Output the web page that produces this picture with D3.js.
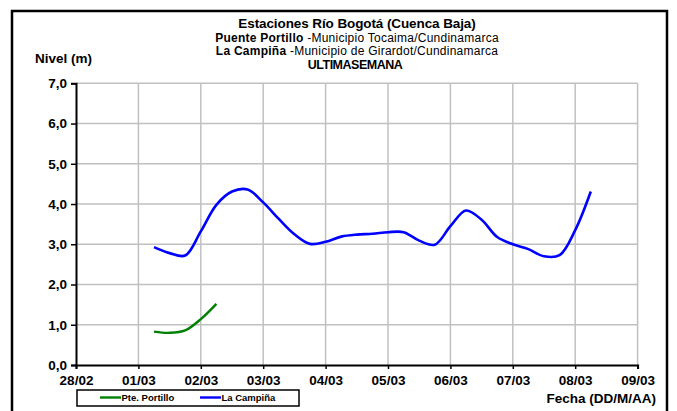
<!DOCTYPE html>
<html><head><meta charset="utf-8">
<script src="https://cdn.jsdelivr.net/npm/d3@7"></script>
<style>body{margin:0;background:#fff}svg{display:block}text{font-family:"Liberation Sans",Arial,sans-serif}</style>
</head><body><div id="c"></div>
<script>
const titleLines = ["Estaciones Río Bogotá (Cuenca Baja)"];
const dayLabels = ["28/02","01/03","02/03","03/03","04/03","05/03","06/03","07/03","08/03","09/03"];
const yTicks = [0,1,2,3,4,5,6,7];
const seriesNames = ["Pte. Portillo","La Campiña"];
// time in days after 28/02 00:00
const timeCampina = [1.25,1.5,1.75,2,2.25,2.5,2.75,3,3.25,3.5,3.75,4,4.25,4.5,4.75,5,5.25,5.5,5.75,6,6.25,6.5,6.75,7,7.25,7.5,7.75,8,8.25];
const nivelCampina = [2.93,2.78,2.72,3.32,3.98,4.31,4.36,4.04,3.63,3.25,3.01,3.06,3.19,3.24,3.26,3.30,3.30,3.09,2.99,3.45,3.84,3.61,3.18,3.00,2.88,2.70,2.73,3.35,4.31];
const timePortillo = [1.25,1.5,1.75,2,2.25];
const nivelPortillo = [0.83,0.80,0.86,1.14,1.52];

const W=677,H=411;
const svg=d3.select("#c").append("svg").attr("width",W).attr("height",H);
svg.append("rect").attr("x",12).attr("y",11).attr("width",655).attr("height",420).attr("fill","none").attr("stroke","#000").attr("stroke-width",2.5);

const x=d3.scaleLinear().domain([0,9]).range([76,637.6]);
const y=d3.scaleLinear().domain([0,7]).range([365,83.3]);

// grid
svg.append("g").selectAll("line").data(yTicks.slice(1)).join("line")
 .attr("x1",x(0)).attr("x2",x(9)).attr("y1",d=>y(d)).attr("y2",d=>y(d)).attr("stroke","#c0c0c0").attr("stroke-width",1.5);
svg.append("g").selectAll("line").data(d3.range(1,10)).join("line")
 .attr("x1",d=>x(d)).attr("x2",d=>x(d)).attr("y1",y(0)).attr("y2",y(7)).attr("stroke","#c0c0c0").attr("stroke-width",1.5);

// axes
const yAxis=d3.axisLeft(y).tickValues(yTicks).tickSize(5).tickFormat(d=>d3.format(".1f")(d).replace(".",","));
const gy=svg.append("g").attr("transform",`translate(${x(0)},0)`).call(yAxis);
gy.select(".domain").attr("stroke-width",2);
gy.selectAll(".tick line").attr("stroke-width",1.5);
gy.selectAll("text").attr("font-size",13.5).attr("font-weight","bold").attr("x",-9).attr("fill","#000");
const xAxis=d3.axisBottom(x).tickValues(d3.range(0,10)).tickSize(4).tickFormat(i=>dayLabels[i]);
const gx=svg.append("g").attr("transform",`translate(0,${y(0)})`).call(xAxis);
gx.select(".domain").attr("stroke-width",2);
gx.selectAll(".tick line").attr("stroke-width",1.5);
gx.selectAll("text").attr("font-size",13.5).attr("font-weight","bold").attr("y",10.4).attr("fill","#000");

// lines
const line=d3.line().curve(d3.curveCatmullRom.alpha(0.5));
svg.append("path").attr("d",line(timePortillo.map((t,i)=>[x(t),y(nivelPortillo[i])]))).attr("fill","none").attr("stroke","#008000").attr("stroke-width",2.4);
svg.append("path").attr("d",line(timeCampina.map((t,i)=>[x(t),y(nivelCampina[i])]))).attr("fill","none").attr("stroke","#0000ff").attr("stroke-width",2.6);

// titles
svg.append("text").attr("text-anchor","middle").attr("font-size",13.5).attr("font-weight","bold").attr("x",357).attr("y",27.5).attr("letter-spacing",-0.1).text(titleLines[0]);
const t2=svg.append("text").attr("text-anchor","middle").attr("font-size",12).attr("x",357).attr("y",41.5).attr("letter-spacing",0.25);
t2.append("tspan").attr("font-weight","bold").text("Puente Portillo ");
t2.append("tspan").text("-Municipio Tocaima/Cundinamarca");
const t3=svg.append("text").attr("text-anchor","middle").attr("font-size",12).attr("x",357).attr("y",55).attr("letter-spacing",0.25);
t3.append("tspan").attr("font-weight","bold").text("La Campiña ");
t3.append("tspan").text("-Municipio de Girardot/Cundinamarca");
svg.append("text").attr("text-anchor","middle").attr("font-size",12.5).attr("font-weight","bold").attr("x",355).attr("y",68.5).attr("letter-spacing",-0.5).text("ULTIMASEMANA");
svg.append("text").attr("x",35).attr("y",63).attr("font-size",13.5).attr("font-weight","bold").text("Nivel (m)");
svg.append("text").attr("x",656).attr("y",403).attr("text-anchor","end").attr("font-size",13.5).attr("font-weight","bold").text("Fecha (DD/M/AA)");

// legend
const lg=svg.append("g");
lg.append("rect").attr("x",77).attr("y",390).attr("width",222).attr("height",16).attr("fill","#fff").attr("stroke","#000").attr("stroke-width",1.5);
const colors=["#008000","#0000ff"], lx=[100,200];
seriesNames.forEach((n,i)=>{
 lg.append("line").attr("x1",lx[i]).attr("x2",lx[i]+21).attr("y1",397.5).attr("y2",397.5).attr("stroke",colors[i]).attr("stroke-width",2.4);
 lg.append("text").attr("x",lx[i]+21.5).attr("y",401).attr("font-size",9.5).attr("font-weight","bold").text(n);
});
</script></body></html>
